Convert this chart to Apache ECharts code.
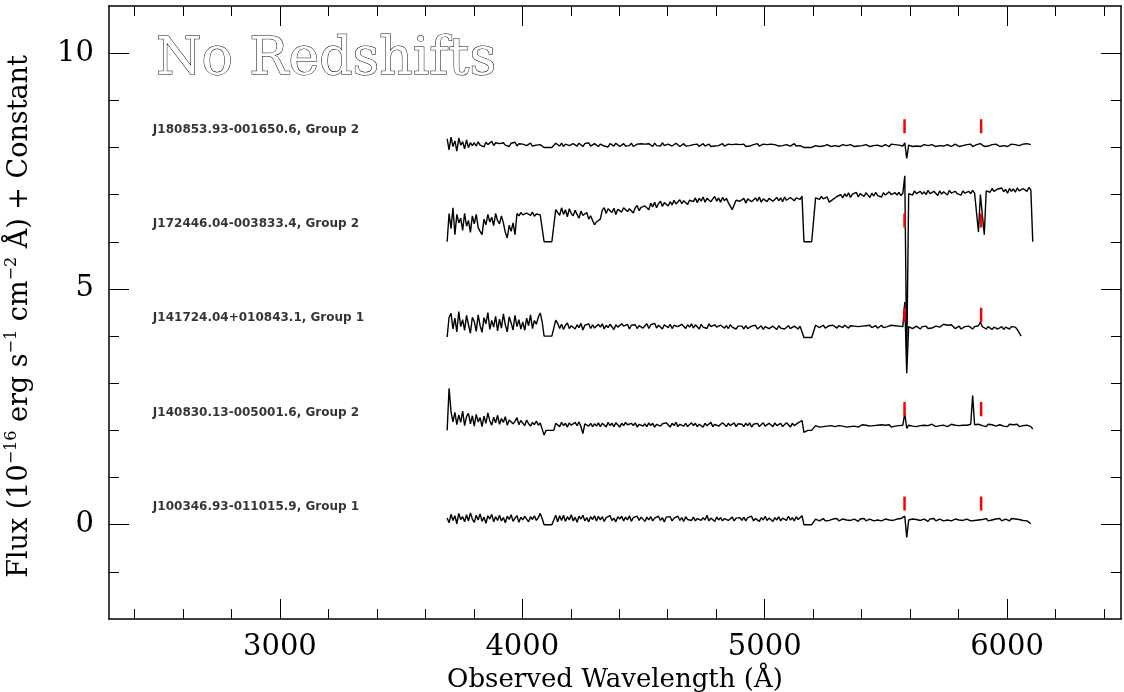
<!DOCTYPE html>
<html>
<head>
<meta charset="utf-8">
<script src="https://cdn.jsdelivr.net/npm/echarts@6/dist/echarts.min.js"></script>
<style>html,body{margin:0;padding:0;background:#fff;}#c{width:1124px;height:692px;}</style>
</head>
<body>
<div id="c"></div>
<script>
// Spectral pixel grid (Angstrom): first pixel and pixel width
const waveStart = 3690;
const waveStep = 8;

// Spectrum names, vertical offsets (the "+ Constant")
const spectrumNames = [
  'J100346.93-011015.9, Group 1',
  'J140830.13-005001.6, Group 2',
  'J141724.04+010843.1, Group 1',
  'J172446.04-003833.4, Group 2',
  'J180853.93-001650.6, Group 2'
];
const spectrumOffsets = [0, 2, 4, 6, 8];

// Flux values in units of 0.01e-16 erg/s/cm2/A, one per spectral pixel
const fluxJ100346 = [14,4,22,9,19,2,24,11,17,6,21,8,25,12,
5,20,10,23,7,16,3,19,12,22,6,17,9,
20,8,15,4,18,11,21,7,14,19,5,16,
10,18,12,6,17,11,19,9,15,24,
13,0,0,0,0,0,0,20,
6,19,9,20,7,17,10,21,8,16,5,18,12,20,8,15,6,17,11,19,
8,18,10,17,7,15,11,19,9,14,6,17,12,18,8,16,10,19,7,15,11,18,9,16,12,
7,16,10,17,8,14,11,18,9,15,6,16,12,17,8,14,10,18,9,15,7,17,11,14,9,
16,8,13,17,9,15,10,20,8,14,11,7,16,10,15,8,13,17,9,12,16,8,14,10,15,
9,16,8,15,11,18,8,13,17,7,15,10,18,9,14,16,7,15,10,17,8,14,16,9,18,10,15,8,17,11,15,19,
0,0,0,0,0,0,12,
12,8,11,13,8,12,9,7,12,10,13,8,11,12,8,10,13,9,8,12,11,7,12,9,13,8,11,12,9,8,12,10,13,8,11,12,8,10,13,9,8,12,10,13,9,
18,-27,10,
10,12,8,11,13,9,8,12,10,7,12,9,13,8,11,12,9,8,12,10,13,8,11,12,8,10,13,9,8,12,11,8,12,9,13,10,
6,11,
11,13,8,12,10,8,12,9,13,8,11,12,9,8,13,10,12,8,11,13,9,12,8,12,
2];

const fluxJ140830 = [0,89,40,18,
38,12,33,17,41,10,29,36,14,31,
9,34,18,27,8,30,15,37,20,11,28,16,32,
13,25,17,29,11,22,26,14,19,27,12,21,
18,10,22,14,9,17,12,20,11,16,
13,-10,0,0,0,0,0,15,
16,8,17,10,15,7,16,11,8,17,10,18,8,-7,14,17,9,15,8,14,
9,16,8,15,12,7,17,10,15,8,16,13,7,15,10,17,12,8,15,10,16,7,13,15,9,
14,8,16,10,15,7,13,17,9,14,10,16,12,7,15,10,17,8,13,16,9,15,8,12,16,
10,15,8,13,16,7,15,10,12,17,8,13,15,9,7,16,12,8,15,10,13,16,8,14,10,
13,8,15,10,16,7,13,10,15,8,12,16,9,7,15,12,8,16,10,13,15,8,10,16,12,7,15,10,12,16,17,21,
-4,0,0,0,0,0,10,
10,7,11,8,12,9,6,10,12,8,7,10,12,9,11,7,10,8,12,9,11,7,10,12,8,11,7,9,12,10,8,11,7,12,9,11,8,12,7,10,9,12,10,8,11,
36,4,11,
12,9,13,8,12,10,13,11,8,10,12,13,9,8,12,10,13,11,9,8,12,13,10,11,8,10,13,11,9,11,12,13,
74,12,11,13,17,10,
12,8,13,10,12,14,9,8,12,13,9,11,8,13,10,12,9,13,8,12,10,13,11,9,8,
3];

const fluxJ141724 = [-2,40,
48,15,38,9,52,20,35,12,44,24,6,40,
31,10,45,22,8,39,26,50,14,33,19,42,11,
36,17,47,24,9,41,28,13,44,20,35,15,
30,12,38,22,45,16,33,25,40,49,
30,0,0,0,0,0,0,34,
27,16,25,14,23,28,16,22,26,15,24,18,27,13,23,19,26,16,24,17,
16,25,19,26,15,23,18,25,21,14,24,19,16,26,21,17,25,15,23,19,24,16,22,26,17,
19,26,16,24,20,27,17,23,26,15,24,28,18,25,16,23,27,20,17,25,22,16,24,19,26,
17,24,20,15,25,19,23,16,26,20,17,24,19,15,23,25,17,22,16,24,19,23,15,21,25,
21,15,22,16,14,21,18,23,15,17,22,14,20,22,16,15,21,19,14,22,17,21,15,19,22,16,14,21,18,15,21,17,
-3,-3,-3,-3,-3,-3,23,
22,18,21,23,17,20,22,18,23,19,17,22,20,18,23,19,17,22,18,21,23,20,18,21,17,22,19,23,18,21,22,17,21,23,18,22,20,18,23,19,22,18,21,23,20,
72,-79,20,
19,16,18,21,17,15,20,17,21,16,20,17,15,21,17,19,22,
25,28,23,27,24,
20,16,19,21,15,18,20,16,21,17,15,20,17,22,
30,20,
19,15,20,16,14,19,21,15,18,20,14,19,16,15,20,16,19,14,18,
0];

const fluxJ172446 = [0,60,
28,72,15,58,40,
50,24,60,33,45,20,55,38,58,30,
22,15,
48,36,58,42,52,34,60,45,38,55,40,
20,8,
35,22,40,15,
60,55,62,57,53,61,58,56,63,54,59,62,57,
58,0,0,0,0,0,0,68,
66,56,72,58,68,53,70,60,55,67,58,50,65,56,53,62,48,55,
45,36,42,38,48,
67,72,60,70,74,62,71,58,69,73,63,72,76,64,70,74,61,72,77,66,73,75,
76,80,68,82,74,84,72,81,86,75,83,87,76,85,78,88,80,77,89,81,87,90,79,88,91,
85,93,83,92,86,95,84,92,94,85,91,96,86,93,84,94,87,92,83,80,68,78,88,92,86,
88,92,82,91,94,85,83,93,86,95,84,91,93,85,92,96,86,84,94,87,93,85,95,88,86,94,97,87,93,96,90,97,
0,0,0,0,0,0,93,
95,90,96,91,89,95,84,83,90,94,96,
97,100,93,102,96,104,94,101,97,105,95,102,98,96,104,99,94,103,97,105,98,102,95,104,99,97,106,100,96,104,99,105,98,103,
140,-251,102,
105,99,108,102,98,107,101,106,100,109,102,99,107,103,98,108,101,106,102,99,109,103,100,107,102,106,99,108,103,101,107,102,109,103,106,
21,100,104,15,108,
111,105,113,107,104,112,108,114,106,111,103,113,107,112,105,114,108,106,113,109,107,115,110,
0];

const fluxJ180853 = [18,-5,22,2,14,-8,20,5,12,-3,16,0,10,4,
10,3,12,5,9,1,11,6,8,13,4,10,7,
8,4,10,5,7,2,9,6,11,3,8,5,7,10,4,6,9,3,7,5,8,6,
5,0,0,0,0,0,0,9,
8,3,9,2,7,10,4,2,8,5,3,9,5,2,8,4,10,3,6,8,
5,2,7,9,3,7,1,8,4,3,9,5,2,6,8,3,7,4,9,2,6,7,3,8,4,
7,3,8,4,2,9,4,7,3,10,4,2,7,8,3,6,9,5,2,6,8,3,7,4,2,
6,3,7,2,6,8,3,6,7,2,6,3,7,4,2,8,3,6,7,3,6,2,7,3,6,
3,7,2,6,3,7,6,2,8,3,6,7,3,6,2,7,3,6,8,3,7,4,2,6,7,3,6,8,3,7,4,6,
0,0,0,0,0,0,4,
5,2,6,3,1,6,3,2,6,4,7,2,5,6,2,4,1,6,3,2,6,3,7,4,2,6,3,2,6,4,1,5,6,2,4,6,3,2,7,4,6,2,5,6,3,
10,-23,5,
5,2,6,3,7,2,5,6,2,4,1,6,3,2,6,4,7,3,2,6,4,2,6,7,3,2,6,4,2,6,3,7,2,4,6,3,8,4,2,6,3,2,6,4,7,3,2,6,4,6,2,4,7,3,6,2,4,6,7,3,8,9,
6];

const fluxArrays = [fluxJ100346, fluxJ140830, fluxJ141724, fluxJ172446, fluxJ180853];

// Red marks: sky line [OI] 5577 and Na D, drawn from offset+markLow to offset+markHigh
const markWaves = [5577, 5893];
const markLow = 0.3, markHigh = 0.6;

// Label anchor (wavelength) and height above each offset
const labelWave = 2476;
const labelRise = 0.38;

// Axis ticks / labels
const xMin = 2295, xMax = 6470;
const xMajor = [3000, 4000, 5000, 6000];
const xMinor = [2400, 2600, 2800, 3200, 3400, 3600, 3800, 4200, 4400, 4600, 4800, 5200, 5400, 5600, 5800, 6200, 6400];
const yMin = -2, yMax = 11;
const yMajor = [0, 5, 10];
const yMinor = [-1, 1, 2, 3, 4, 6, 7, 8, 9];

const SERIF = 'DejaVu Serif';
const chart = echarts.init(document.getElementById('c'), null, {renderer: 'canvas'});

const series = [];
fluxArrays.forEach((arr, k) => {
  const off = spectrumOffsets[k];
  series.push({
    type: 'line', xAxisIndex: 0, yAxisIndex: 0, symbol: 'none', showSymbol: false,
    lineStyle: {color: '#000', width: 1.4}, z: 2, silent: true,
    data: arr.map((v, i) => [waveStart + i * waveStep, off + v / 100])
  });
  markWaves.forEach(w => {
    series.push({
      type: 'line', xAxisIndex: 0, yAxisIndex: 0, symbol: 'none', showSymbol: false,
      lineStyle: {color: '#ff0000', width: 2.5}, z: 3, silent: true,
      data: [[w, off + markLow], [w, off + markHigh]]
    });
  });
  series.push({
    type: 'scatter', xAxisIndex: 0, yAxisIndex: 0, symbolSize: 0, silent: true,
    data: [[labelWave, off + labelRise]],
    label: {show: true, position: 'right', distance: 0, formatter: spectrumNames[k],
      fontFamily: 'DejaVu Sans', fontWeight: 'bold', fontSize: 12, color: '#000'}
  });
});

function xAx(pos, vals, len, showLine, labels) {
  return {
    type: 'value', position: pos, min: xMin, max: xMax, gridIndex: 0,
    axisLine: {show: showLine, onZero: false, lineStyle: {color: '#000', width: 1.5}},
    axisTick: {show: true, inside: true, length: len, customValues: vals, lineStyle: {color: '#000', width: 1}},
    axisLabel: labels ? {show: true, customValues: xMajor, margin: 14, fontFamily: SERIF, fontSize: 29, color: '#000',
      formatter: v => String(v)} : {show: false},
    splitLine: {show: false}
  };
}
function yAx(pos, vals, len, showLine, labels) {
  return {
    type: 'value', position: pos, min: yMin, max: yMax, gridIndex: 0,
    axisLine: {show: showLine, onZero: false, lineStyle: {color: '#000', width: 1.5}},
    axisTick: {show: true, inside: true, length: len, customValues: vals, lineStyle: {color: '#000', width: 1}},
    axisLabel: labels ? {show: true, customValues: yMajor, margin: 15, fontFamily: SERIF, fontSize: 29, color: '#000',
      formatter: v => String(v)} : {show: false},
    splitLine: {show: false}
  };
}

const xa0 = xAx('bottom', xMajor, 20, true, true);
xa0.name = 'Observed Wavelength (Å)';
xa0.nameLocation = 'middle';
xa0.nameGap = 45;
xa0.nameTextStyle = {fontFamily: SERIF, fontSize: 26, color: '#000'};

const ya0 = yAx('left', yMajor, 20, true, true);
ya0.name = '{a|Flux (10}{s|−16}{a| erg s}{s|−1}{a| cm}{s|−2}{a| Å) + Constant}';
ya0.nameLocation = 'middle';
ya0.nameGap = 73;
ya0.nameRotate = 90;
ya0.nameTextStyle = {
  fontFamily: SERIF, fontSize: 27, color: '#000', padding: [0, 8, 0, 0],
  rich: {
    a: {fontFamily: SERIF, fontSize: 27, color: '#000', lineHeight: 32, verticalAlign: 'middle'},
    s: {fontFamily: SERIF, fontSize: 16, color: '#000', lineHeight: 16, verticalAlign: 'top'}
  }
};

chart.setOption({
  animation: false,
  backgroundColor: '#fff',
  title: {
    text: 'No Redshifts', left: 151, top: 29,
    textStyle: {fontFamily: SERIF, fontSize: 52, fontWeight: 'normal', color: '#fff',
      textBorderColor: '#000', textBorderWidth: 1}
  },
  grid: {left: 109, right: 3, top: 6, bottom: 73, containLabel: false, outerBoundsMode: 'none'},
  xAxis: [xa0, xAx('bottom', xMinor, 10, false, false), xAx('top', xMajor, 20, true, false), xAx('top', xMinor, 10, false, false)],
  yAxis: [ya0, yAx('left', yMinor, 10, false, false), yAx('right', yMajor, 20, true, false), yAx('right', yMinor, 10, false, false)],
  series: series
});
</script>
</body>
</html>
